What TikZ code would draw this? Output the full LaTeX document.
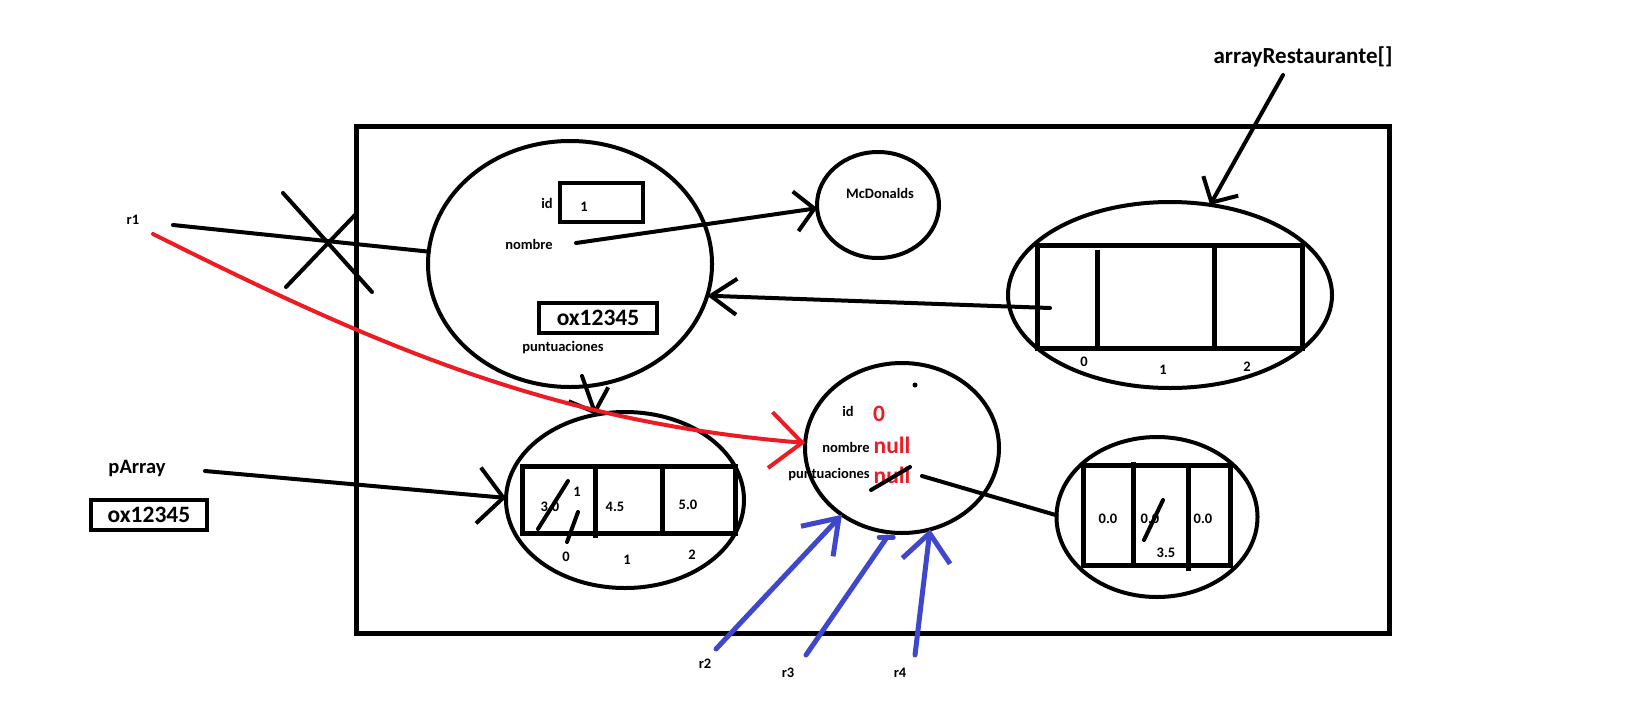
\documentclass[tikz,border=0pt]{standalone}
\usepackage{fontspec}
\setmainfont{Carlito}
\usetikzlibrary{arrows.meta,shapes.geometric}
\definecolor{pred}{RGB}{237,28,36}
\definecolor{pblue}{RGB}{63,72,204}
\begin{document}
\begin{tikzpicture}[x=1pt,y=-1pt,
  every node/.style={inner sep=0pt, outer sep=0pt},
  blob/.style={draw, ellipse, line width=4pt},
  cellbox/.style={draw, line width=5pt},
  valbox/.style={draw, line width=4.5pt},
  conn/.style={line width=4pt, line cap=round},
  bconn/.style={line width=5pt, line cap=round, draw=pblue},
  vtip/.style 2 args={-{Straight Barb[length=#1,width=#2]}},
  sm/.style={font=\bfseries\fontsize{14.5}{16}\selectfont},
  big/.style={font=\bfseries\fontsize{23.5}{26}\selectfont},
  redbig/.style={font=\bfseries\fontsize{23.5}{26}\selectfont, text=pred}]
\useasboundingbox (0,0) rectangle (1629,723);
\fill[white] (0,0) rectangle (1629,723);

% heap frame
\node[draw, line width=5pt, minimum width=1033pt, minimum height=507pt] (heap) at (872.5,379.5) {};

% ellipses
\node[blob, minimum width=284pt, minimum height=246pt] (obj1) at (570,264) {};
\node[blob, minimum width=122pt, minimum height=106pt] (mcd) at (878,205) {};
\node[blob, minimum width=324pt, minimum height=186pt] (arrR) at (1170,295) {};
\node[blob, minimum width=238pt, minimum height=176pt] (punt) at (625,500) {};
\node[blob, minimum width=194pt, minimum height=170pt] (nullobj) at (902,448) {};
\node[blob, minimum width=201pt, minimum height=160pt] (arr2) at (1157,517) {};

% object 1 content
\node[valbox, line width=4pt, minimum width=83pt, minimum height=39pt] (idbox) at (601.5,202.5) {};
\node[sm] (idlbl) at (547,203) {id};
\node[sm] (idval) at (584,207) {1};
\node[sm] (nomlbl) at (529,244) {nombre};
\node[valbox, minimum width=118pt, minimum height=30pt] (oxbox) at (598,318) {};
\node[big] (oxtxt) at (598,318) {ox12345};
\node[sm] (puntlbl) at (563,348) {puntuaciones};

% McDonalds
\node[sm] (mcdtxt) at (880,193) {McDonalds};

% restaurant array
\node[cellbox, minimum width=265pt, minimum height=103pt] (arrRrect) at (1169.5,296.5) {};
\draw[line width=5pt] (1097,250) -- (1097,348);
\draw[line width=5pt] (1214,245) -- (1214,348);
\node[sm] (ri0) at (1084,362) {0};
\node[sm] (ri1) at (1163,370) {1};
\node[sm] (ri2) at (1247,367) {2};
\node[font=\bfseries\fontsize{23}{26}\selectfont] (arrRlbl) at (1303,57) {arrayRestaurante[]};

% puntuaciones array
\node[cellbox, minimum width=213pt, minimum height=67pt] (prect) at (628.5,499.5) {};
\draw[line width=5pt] (595,466) -- (595,538);
\draw[line width=5pt] (662,466) -- (662,533);
\node[sm] (p0) at (550,507) {3.0};
\node[sm] (p0b) at (577,492) {1};
\node[sm] (p1) at (615,507) {4.5};
\node[sm] (p2) at (688,505) {5.0};
\draw[conn] (538,529) -- (568,481);
\draw[conn] (567,542) -- (578,512);
\node[sm] (pi0) at (566,557) {0};
\node[sm] (pi1) at (627,560) {1};
\node[sm] (pi2) at (692,555) {2};

% left side labels
\node[sm] (r1) at (133,220) {r1};
\node[font=\bfseries\fontsize{20.5}{23}\selectfont] (parr) at (137,468) {pArray};
\node[valbox, minimum width=116pt, minimum height=30pt] (oxbox2) at (149,515) {};
\node[big] (oxtxt2) at (149,515) {ox12345};

% null object
\fill (915,385) circle (2.5pt);
\node[sm] (nid) at (848,411) {id};
\node[redbig] (nidv) at (879,414) {0};
\node[sm] (nnom) at (846,447) {nombre};
\node[redbig] (nnomv) at (892,445) {null};
\node[sm] (npun) at (829,475) {puntuaciones};
\node[redbig] (npunv) at (892,475) {null};
\draw[conn] (871,490) -- (910,467);

% second array
\node[cellbox, minimum width=147pt, minimum height=100pt] (a2rect) at (1156.5,515) {};
\draw[line width=5pt] (1133,462) -- (1133,565);
\draw[line width=5pt] (1188,465) -- (1188,571);
\node[sm] (a0) at (1108,519) {0.0};
\node[sm] (a1) at (1150,519) {0.0};
\node[sm] (a2) at (1203,519) {0.0};
\draw[conn] (1144,540) -- (1163,500);
\node[sm] (a1b) at (1166,553) {3.5};

% r labels
\node[sm] (r2) at (705,664) {r2};
\node[sm] (r3) at (788,673) {r3};
\node[sm] (r4) at (900,673) {r4};

% free ends
\coordinate (r1s) at (173,225);
\coordinate (r1red) at (153,234);
\coordinate (noms) at (576,243);
\coordinate (arrRs) at (1050,308);
\coordinate (arrRls) at (1283,75);
\coordinate (punts) at (582,376);
\coordinate (parrs) at (205,471);
\coordinate (nulls) at (922,476);
\coordinate (r2s) at (716,649);
\coordinate (r3s) at (806,655);
\coordinate (r4s) at (915,655);
\coordinate (r3e) at ([yshift=-5pt]nullobj.260);
\coordinate (xa1) at (283,193);
\coordinate (xa2) at (372,292);
\coordinate (xb1) at (286,287);
\coordinate (xb2) at (355,215);

% connectors
\draw[conn] (r1s) -- (obj1.175);
\draw[conn] (xa1) -- (xa2);
\draw[conn] (xb1) -- (xb2);
\draw[conn, vtip={19pt}{40pt}] (noms) -- (mcd.183);
\draw[conn, vtip={26pt}{36pt}] (arrRs) -- (obj1.-13);
\draw[conn, vtip={19pt}{40pt}] (arrRls) -- (arrR.66);
\draw[conn, vtip={19pt}{42pt}] (punts) -- (punt.109);
\draw[conn, vtip={25pt}{56pt}] (parrs) -- (punt.179);
\draw[conn] (nulls) -- (arr2.179);
\draw[conn, draw=pred, vtip={32pt}{56pt}] (r1red) .. controls (375,345) and (550,422) .. (nullobj.177);
\draw[bconn, vtip={32pt}{44pt}] (r2s) -- (nullobj.228);
\draw[bconn] (r3s) -- (r3e);
\draw[bconn] ([xshift=-8pt]r3e) -- ([xshift=6pt]r3e);
\draw[bconn, vtip={28pt}{48pt}] (r4s) -- (nullobj.-71);
\end{tikzpicture}
\end{document}
